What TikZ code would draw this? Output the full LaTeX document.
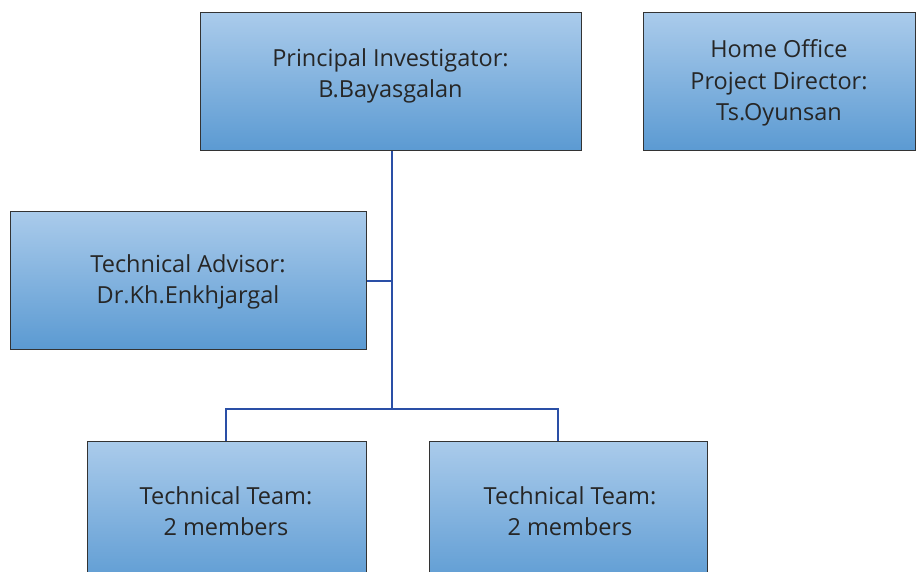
\documentclass[tikz,border=0pt]{standalone}
\usepackage{fontspec}
\setmainfont{Open Sans}
\begin{document}
\begin{tikzpicture}[x=1pt,y=-1pt,
  box/.style={draw=black!80,line width=1pt,top color=boxtop,bottom color=boxbot,rectangle},
  lbl/.style={align=center,text=black!85,font=\fontsize{23.5}{31.5}\selectfont},
  conn/.style={draw=connblue,line width=2.8pt}]
\definecolor{boxtop}{HTML}{AACBEB}
\definecolor{boxbot}{HTML}{5B9AD2}
\definecolor{connblue}{HTML}{2A4FA6}
\useasboundingbox (0,0) rectangle (917,572);
% connectors first
\coordinate (pib) at (392,151);
\coordinate (j1) at (392,281);
\coordinate (j2) at (392,409);
\coordinate (l1) at (226,409);
\coordinate (r1) at (558,409);
\coordinate (tat) at (366,281);
\coordinate (t1t) at (226,441);
\coordinate (t2t) at (558,441);
\draw[conn] (pib) -- (j2);
\draw[conn] (tat) -- (j1);
\draw[conn] (t1t) -- (l1) -- (r1) -- (t2t);
% boxes
\path[box] (200,13) rectangle (581,151);
\path[box] (643,13) rectangle (915,151);
\path[box] (10,211) rectangle (366,349);
\path[box] (87,441) rectangle (366,590);
\path[box] (429,441) rectangle (707,590);
\node[lbl] (pi) at (390.5,76) {Principal Investigator:\\B.Bayasgalan};
\node[lbl] (ho) at (779,83) {Home Office\\Project Director:\\Ts.Oyunsan};
\node[lbl] (ta) at (188,282) {Technical Advisor:\\Dr.Kh.Enkhjargal};
\node[lbl] (t1) at (226,511) {Technical Team:\\2 members};
\node[lbl] (t2) at (570,511) {Technical Team:\\2 members};
\end{tikzpicture}
\end{document}
